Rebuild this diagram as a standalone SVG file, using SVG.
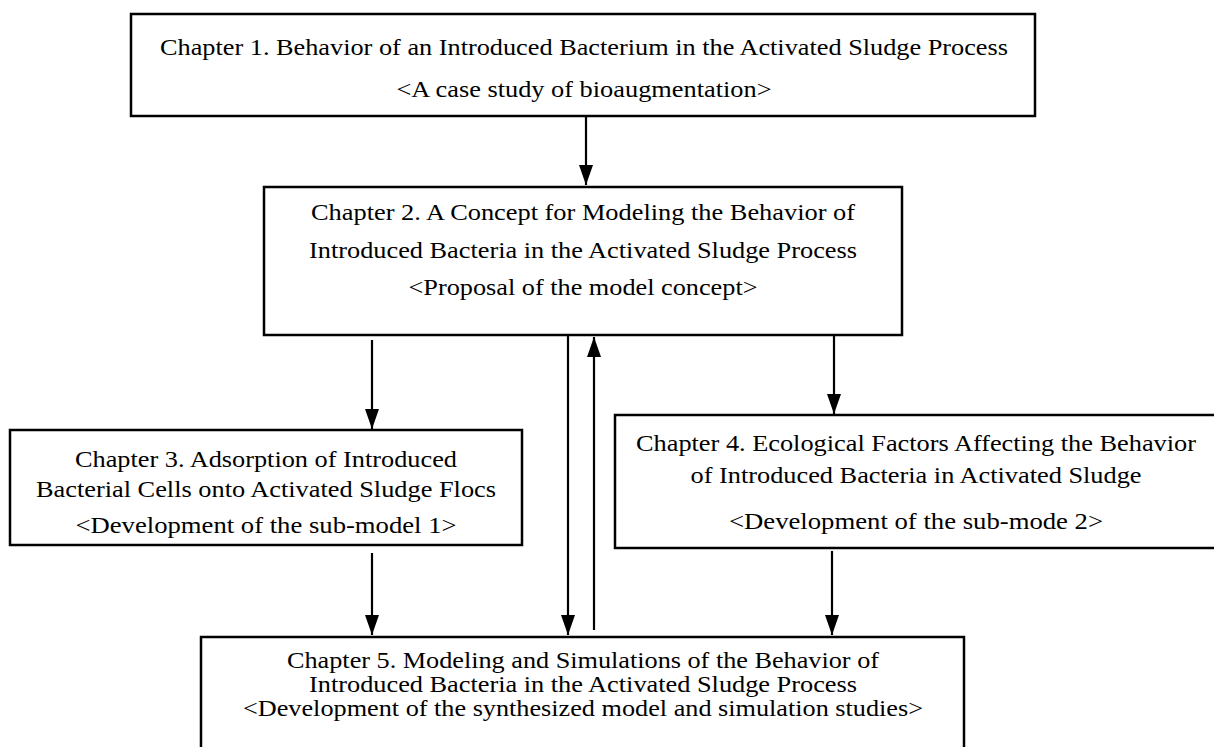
<svg xmlns="http://www.w3.org/2000/svg" width="1214" height="747" viewBox="0 0 1214 747">
<style>
.box{fill:#fff;stroke:#000;stroke-width:2.5}
.t{font-family:"Liberation Serif","Times New Roman",serif;font-size:24px;fill:#000;text-anchor:middle}
.c{stroke:#000;stroke-width:2.2;fill:none}
</style>
<defs>
<marker id="ah" viewBox="0 0 20 14" refX="20" refY="7" markerWidth="20" markerHeight="14" markerUnits="userSpaceOnUse" orient="auto">
<path d="M0,0 L20,7 L0,14 z" fill="#000"/>
</marker>
</defs>
<rect width="1214" height="747" fill="#fff"/>
<g id="connectors">
<line class="c" x1="586" y1="116" x2="586" y2="185" marker-end="url(#ah)"/>
<line class="c" x1="372" y1="340" x2="372" y2="429" marker-end="url(#ah)"/>
<line class="c" x1="568" y1="336" x2="568" y2="635" marker-end="url(#ah)"/>
<line class="c" x1="594" y1="630" x2="594" y2="337" marker-end="url(#ah)"/>
<line class="c" x1="834" y1="336" x2="834" y2="414" marker-end="url(#ah)"/>
<line class="c" x1="372" y1="553" x2="372" y2="635" marker-end="url(#ah)"/>
<line class="c" x1="832" y1="551" x2="832" y2="635" marker-end="url(#ah)"/>
</g>
<g id="ch1">
<rect class="box" x="131" y="14" width="904" height="102"/>
<text class="t" x="584" y="55" textLength="848" lengthAdjust="spacingAndGlyphs">Chapter 1. Behavior of an Introduced Bacterium in the Activated Sludge Process</text>
<text class="t" x="584" y="97" textLength="375" lengthAdjust="spacingAndGlyphs">&lt;A case study of bioaugmentation&gt;</text>
</g>
<g id="ch2">
<rect class="box" x="264" y="187" width="638" height="148"/>
<text class="t" x="583" y="220" textLength="544" lengthAdjust="spacingAndGlyphs">Chapter 2. A Concept for Modeling the Behavior of</text>
<text class="t" x="583" y="258" textLength="548" lengthAdjust="spacingAndGlyphs">Introduced Bacteria in the Activated Sludge Process</text>
<text class="t" x="583" y="295" textLength="349" lengthAdjust="spacingAndGlyphs">&lt;Proposal of the model concept&gt;</text>
</g>
<g id="ch3">
<rect class="box" x="10" y="430" width="512" height="115"/>
<text class="t" x="266" y="467" textLength="382" lengthAdjust="spacingAndGlyphs">Chapter 3. Adsorption of Introduced</text>
<text class="t" x="266" y="497" textLength="460" lengthAdjust="spacingAndGlyphs">Bacterial Cells onto Activated Sludge Flocs</text>
<text class="t" x="266" y="533" textLength="381" lengthAdjust="spacingAndGlyphs">&lt;Development of the sub-model 1&gt;</text>
</g>
<g id="ch4">
<rect class="box" x="615" y="415" width="603" height="133"/>
<text class="t" x="916" y="451" textLength="560" lengthAdjust="spacingAndGlyphs">Chapter 4. Ecological Factors Affecting the Behavior</text>
<text class="t" x="916" y="483" textLength="451" lengthAdjust="spacingAndGlyphs">of Introduced Bacteria in Activated Sludge</text>
<text class="t" x="916" y="529" textLength="374" lengthAdjust="spacingAndGlyphs">&lt;Development of the sub-mode 2&gt;</text>
</g>
<g id="ch5">
<rect class="box" x="201" y="637" width="763" height="130"/>
<text class="t" x="583" y="668" textLength="592" lengthAdjust="spacingAndGlyphs">Chapter 5. Modeling and Simulations of the Behavior of</text>
<text class="t" x="583" y="692" textLength="548" lengthAdjust="spacingAndGlyphs">Introduced Bacteria in the Activated Sludge Process</text>
<text class="t" x="583" y="716" textLength="680" lengthAdjust="spacingAndGlyphs">&lt;Development of the synthesized model and simulation studies&gt;</text>
</g>
</svg>
